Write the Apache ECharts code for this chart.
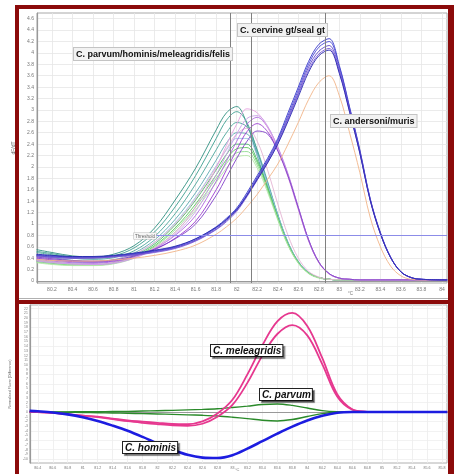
<!DOCTYPE html>
<html><head><meta charset="utf-8">
<script src="https://cdn.jsdelivr.net/npm/echarts@6/dist/echarts.min.js"></script>
<style>html,body{margin:0;padding:0;background:#fff}#c{width:454px;height:474px}</style>
</head><body><div id="c"></div>
<script>
// ---------- TOP PANEL (melt curves dF/dT) ----------
const xTop = [80.05,80.2,80.4,80.6,80.8,81.0,81.2,81.4,81.6,81.8,81.9,82.0,82.1,82.2,82.3,82.4,82.5,82.6,82.7,82.8,82.9,83.0,83.1,83.2,83.3,83.4,83.5,83.6,83.7,83.8,84.05];
const xTopTicks = [80.2,80.4,80.6,80.8,81,81.2,81.4,81.6,81.8,82,82.2,82.4,82.6,82.8,83,83.2,83.4,83.6,83.8,84];
const yTopTicks = [0,0.2,0.4,0.6,0.8,1,1.2,1.4,1.6,1.8,2,2.2,2.4,2.6,2.8,3,3.2,3.4,3.6,3.8,4,4.2,4.4,4.6];
// group 1: C. parvum/hominis/meleagridis/felis
const teal1  = [0.55,0.50,0.44,0.42,0.47,0.62,0.93,1.42,1.98,2.65,2.95,3.06,2.75,2.20,1.62,1.10,0.65,0.33,0.14,0.06,0.03,0.02,0.02,0.02,0.02,0.02,0.02,0.02,0.02,0.02,0.02];
const teal2  = [0.52,0.48,0.42,0.40,0.44,0.58,0.86,1.30,1.85,2.50,2.82,2.97,2.78,2.28,1.70,1.13,0.66,0.33,0.14,0.06,0.03,0.02,0.02,0.02,0.02,0.02,0.02,0.02,0.02,0.02,0.02];
const teal3  = [0.50,0.46,0.40,0.38,0.41,0.53,0.78,1.18,1.70,2.30,2.60,2.78,2.70,2.30,1.75,1.17,0.68,0.34,0.15,0.06,0.03,0.02,0.02,0.02,0.02,0.02,0.02,0.02,0.02,0.02,0.02];
const teal4  = [0.45,0.41,0.36,0.34,0.37,0.49,0.72,1.08,1.55,2.12,2.42,2.60,2.58,2.25,1.72,1.16,0.67,0.34,0.15,0.06,0.03,0.02,0.02,0.02,0.02,0.02,0.02,0.02,0.02,0.02,0.02];
const ltblue = [0.40,0.37,0.33,0.32,0.35,0.46,0.68,1.02,1.47,2.02,2.30,2.50,2.50,2.20,1.70,1.15,0.67,0.34,0.15,0.06,0.03,0.02,0.02,0.02,0.02,0.02,0.02,0.02,0.02,0.02,0.02];
const green1 = [0.36,0.33,0.30,0.29,0.32,0.44,0.65,0.98,1.42,1.95,2.22,2.40,2.40,2.12,1.65,1.12,0.65,0.33,0.14,0.06,0.03,0.02,0.02,0.02,0.02,0.02,0.02,0.02,0.02,0.02,0.02];
const green2 = [0.34,0.31,0.28,0.28,0.31,0.42,0.62,0.93,1.35,1.86,2.13,2.32,2.34,2.08,1.63,1.10,0.64,0.32,0.14,0.06,0.03,0.02,0.02,0.02,0.02,0.02,0.02,0.02,0.02,0.02,0.02];
const ltgrn1 = [0.33,0.30,0.28,0.28,0.31,0.41,0.60,0.90,1.30,1.80,2.06,2.25,2.27,2.03,1.60,1.09,0.63,0.32,0.14,0.06,0.03,0.02,0.02,0.02,0.02,0.02,0.02,0.02,0.02,0.02,0.02];
const ltgrn2 = [0.32,0.29,0.27,0.27,0.30,0.40,0.58,0.86,1.25,1.73,1.98,2.17,2.20,1.98,1.56,1.07,0.62,0.31,0.13,0.05,0.03,0.02,0.02,0.02,0.02,0.02,0.02,0.02,0.02,0.02,0.02];
const pinkG1 = [0.42,0.39,0.35,0.34,0.37,0.47,0.68,1.00,1.45,2.00,2.32,2.58,2.68,2.45,1.95,1.35,0.80,0.40,0.17,0.07,0.03,0.02,0.02,0.02,0.02,0.02,0.02,0.02,0.02,0.02,0.02];
// group 2: second peak (~82.15)
const purpA  = [0.40,0.37,0.34,0.33,0.35,0.42,0.55,0.75,1.05,1.60,1.95,2.30,2.62,2.76,2.62,2.30,1.85,1.28,0.72,0.33,0.13,0.05,0.03,0.02,0.02,0.02,0.02,0.02,0.02,0.02,0.02];
const violB  = [0.38,0.35,0.32,0.31,0.34,0.42,0.57,0.80,1.15,1.75,2.10,2.45,2.75,2.87,2.70,2.35,1.88,1.30,0.73,0.33,0.13,0.05,0.03,0.02,0.02,0.02,0.02,0.02,0.02,0.02,0.02];
const pinkC  = [0.36,0.33,0.30,0.29,0.32,0.41,0.58,0.85,1.30,1.98,2.38,2.75,3.02,2.95,2.70,2.30,1.82,1.25,0.70,0.32,0.12,0.05,0.03,0.02,0.02,0.02,0.02,0.02,0.02,0.02,0.02];
const lilacD = [0.35,0.32,0.30,0.29,0.31,0.40,0.56,0.82,1.22,1.86,2.22,2.58,2.85,2.90,2.72,2.33,1.85,1.28,0.71,0.33,0.13,0.05,0.03,0.02,0.02,0.02,0.02,0.02,0.02,0.02,0.02];
const purpE  = [0.42,0.39,0.36,0.35,0.37,0.44,0.56,0.74,1.00,1.50,1.82,2.15,2.45,2.63,2.58,2.28,1.84,1.28,0.72,0.33,0.13,0.05,0.03,0.02,0.02,0.02,0.02,0.02,0.02,0.02,0.02];
// group 3: C. andersoni/muris
const blueA  = [0.46,0.44,0.42,0.42,0.44,0.48,0.53,0.60,0.74,0.95,1.10,1.28,1.55,1.85,2.15,2.50,2.95,3.40,3.85,4.15,4.25,3.78,3.05,2.30,1.45,0.85,0.42,0.16,0.06,0.03,0.02];
const blueB  = [0.45,0.43,0.41,0.41,0.43,0.47,0.52,0.59,0.72,0.93,1.08,1.26,1.52,1.82,2.12,2.47,2.90,3.35,3.80,4.10,4.20,3.75,3.03,2.28,1.44,0.84,0.41,0.16,0.06,0.03,0.02];
const purpC3 = [0.44,0.42,0.40,0.41,0.43,0.46,0.51,0.58,0.71,0.91,1.06,1.24,1.50,1.80,2.10,2.44,2.86,3.30,3.75,4.03,4.13,3.70,3.00,2.26,1.43,0.83,0.41,0.16,0.06,0.03,0.02];
const violD3 = [0.43,0.41,0.40,0.40,0.42,0.45,0.50,0.57,0.70,0.90,1.04,1.22,1.48,1.77,2.07,2.41,2.83,3.27,3.70,3.98,4.08,3.66,2.97,2.24,1.42,0.83,0.41,0.16,0.06,0.03,0.02];
const blueE  = [0.47,0.45,0.43,0.43,0.45,0.49,0.54,0.61,0.74,0.94,1.08,1.25,1.50,1.78,2.07,2.40,2.80,3.23,3.66,3.95,4.05,3.64,2.96,2.24,1.42,0.83,0.41,0.16,0.06,0.03,0.02];
const orange = [0.38,0.36,0.35,0.35,0.37,0.40,0.45,0.52,0.63,0.82,0.95,1.10,1.30,1.52,1.78,2.05,2.40,2.78,3.18,3.48,3.60,3.25,2.60,1.90,1.12,0.60,0.26,0.09,0.03,0.02,0.02];
const markerTemps = [81.94, 82.14, 82.86];
const thresholdValue = 0.8;
const thresholdStart = 81.0;

// ---------- BOTTOM PANEL (difference plot) ----------
const xBot = [80.29,80.4,80.6,80.8,81.0,81.2,81.4,81.6,81.8,82.0,82.2,82.4,82.6,82.8,83.0,83.2,83.4,83.6,83.8,84.0,84.2,84.4,84.6,84.8,85.0,85.2,85.4,85.6,85.87];
const xBotTicks = [80.4,80.6,80.8,81,81.2,81.4,81.6,81.8,82,82.2,82.4,82.6,82.8,83,83.2,83.4,83.6,83.8,84,84.2,84.4,84.6,84.8,85,85.2,85.4,85.6,85.8];
const yBotTicks = [-10,-9,-8,-7,-6,-5,-4,-3,-2,-1,0,1,2,3,4,5,6,7,8,9,10,11,12,13,14,15,16,17,18,19,20,21,22];
const yBotGrid = [-10,-8,-6,-4,-2,0,2,4,6,8,10,12,14,16,18,20,22];
const hominis   = [0.25,0.15,-0.1,-0.5,-1.1,-1.9,-2.9,-4.0,-5.3,-6.7,-8.0,-9.1,-9.7,-9.8,-9.2,-7.8,-6.2,-4.6,-3.1,-1.8,-0.8,-0.15,0,0,0,0,0,0,0];
const meleagA   = [0,0,-0.2,-0.5,-0.8,-1.0,-1.4,-1.8,-2.05,-2.3,-2.55,-2.6,-2.0,-0.3,2.6,8.0,14.2,19.3,21.1,18.3,11.5,3.8,0.6,0.05,0,0,0,0,0];
const meleagB   = [0,0,-0.2,-0.45,-0.75,-1.1,-1.5,-1.95,-2.3,-2.6,-2.85,-2.95,-2.5,-1.0,1.5,6.2,12.0,16.6,18.5,16.3,10.2,3.3,0.5,0.05,0,0,0,0,0];
const parvumUp  = [0,0,0.02,0.03,0.05,0.07,0.1,0.14,0.2,0.27,0.35,0.45,0.55,0.7,0.95,1.25,1.6,1.7,1.4,0.85,0.3,0.05,0,0,0,0,0,0,0];
const parvumDn  = [0,0,-0.03,-0.06,-0.1,-0.15,-0.2,-0.27,-0.35,-0.42,-0.5,-0.6,-0.7,-0.85,-1.1,-1.4,-1.75,-1.9,-1.6,-0.95,-0.35,-0.05,0,0,0,0,0,0,0];

const topSeries = [
  [teal1,'#2f8f80'],[teal2,'#3c9e8f'],[teal3,'#4aa59a'],[teal4,'#5aa8b0'],[ltblue,'#9cc4e4'],
  [green1,'#48b868'],[green2,'#5cc85c'],[ltgrn1,'#8edc8e'],[ltgrn2,'#b4e8a8'],[pinkG1,'#e4b4d4'],
  [purpA,'#9a3ad0'],[violB,'#b068e0'],[pinkC,'#e6a2e0'],[lilacD,'#c8a0e8'],[purpE,'#8040c8'],
  [orange,'#f2b488'],[blueA,'#3535c8'],[blueB,'#4a4ad8'],[purpC3,'#6048c8'],[violD3,'#7a5ad8'],[blueE,'#2828b0']
];
const botSeries = [
  [parvumUp,'#2a8a2a',1.4],[parvumDn,'#2a8a2a',1.4],
  [meleagA,'#e6388f',1.8],[meleagB,'#e6388f',1.8],
  [hominis,'#1c1ce0',2.6]
];

const FONT = '"Liberation Sans", Arial, sans-serif';
const fmt = v => String(+v.toFixed(1));

const series = [];
topSeries.forEach(([arr,col],i) => {
  series.push({
    type:'line', xAxisIndex:0, yAxisIndex:0, showSymbol:false, smooth:0.35, silent:true,
    data: xTop.map((x,j)=>[x,arr[j]]),
    lineStyle:{width:0.9,color:col}, itemStyle:{color:col}, z:3
  });
});
// marker lines + threshold
series.push({
  type:'line', xAxisIndex:0, yAxisIndex:0, data:[], silent:true, z:4,
  markLine:{
    symbol:'none', silent:true, animation:false, label:{show:false},
    data: markerTemps.map(t=>({xAxis:t, lineStyle:{color:'#808080',width:1,type:'solid'}}))
      .concat([[{coord:[thresholdStart,thresholdValue], lineStyle:{color:'#8c8ce8',width:1,type:'solid'}},{coord:[84.049,thresholdValue]}]])
  }
});
botSeries.forEach(([arr,col,w]) => {
  series.push({
    type:'line', xAxisIndex:1, yAxisIndex:1, showSymbol:false, smooth:0.35, silent:true,
    data: xBot.map((x,j)=>[x,arr[j]]),
    lineStyle:{width:w,color:col}, itemStyle:{color:col}, z:3
  });
});

function boxTop(text, x, y){
  return {type:'text', x:x, y:y, z:100, silent:true,
    style:{text:text, font:'bold 9px '+FONT, fill:'#111', backgroundColor:'#f2f2f2',
      borderColor:'#c4c4c4', borderWidth:1, padding:[2,2,1,2]}};
}
function boxBot(text, x, y){
  return {type:'text', x:x, y:y, z:100, silent:true,
    style:{text:text, font:'italic bold 10px '+FONT, fill:'#111', backgroundColor:'#fff',
      borderColor:'#222', borderWidth:1, padding:[1,1,0,2],
      shadowColor:'rgba(0,0,0,0.45)', shadowOffsetX:2, shadowOffsetY:2, shadowBlur:1}};
}

const chart = echarts.init(document.getElementById('c'), null, {renderer:'canvas'});
chart.setOption({
  animation:false,
  backgroundColor:'#fff',
  grid:[
    {left:37, top:13, width:410, height:270, show:true, borderColor:'#a8a8a8', borderWidth:1, backgroundColor:'#fff'},
    {left:29, top:305, width:418, height:158, show:true, borderColor:'#b0b0b0', borderWidth:1, backgroundColor:'#fff'}
  ],
  xAxis:[
    {type:'value', gridIndex:0, min:80.054, max:84.049,
     axisLine:{show:true,lineStyle:{color:'#999',width:1.2}},
     axisTick:{show:false, customValues:xTopTicks},
     axisLabel:{customValues:xTopTicks, formatter:fmt, fontSize:5, color:'#777', margin:4, fontFamily:FONT},
     splitLine:{show:true, lineStyle:{color:'#e6e6e6', width:0.8}}},
    {type:'value', gridIndex:1, min:80.293, max:85.867,
     axisLine:{show:true,lineStyle:{color:'#999',width:1.2}},
     axisTick:{show:false, customValues:xBotTicks},
     axisLabel:{customValues:xBotTicks, formatter:fmt, fontSize:3.6, color:'#777', margin:3, fontFamily:FONT},
     splitLine:{show:true, lineStyle:{color:'#ececec', width:0.8}}}
  ],
  yAxis:[
    {type:'value', gridIndex:0, min:-0.035, max:4.70,
     name:'dF/dT', nameLocation:'middle', nameGap:13, nameRotate:90,
     nameTextStyle:{fontSize:5, color:'#666', fontFamily:FONT},
     axisLine:{show:true,lineStyle:{color:'#999',width:1.2}},
     axisTick:{show:false, customValues:yTopTicks},
     axisLabel:{customValues:yTopTicks, formatter:fmt, fontSize:5, color:'#777', margin:3, fontFamily:FONT},
     splitLine:{show:true, lineStyle:{color:'#e6e6e6', width:0.8}}},
    {type:'value', gridIndex:1, min:-10.85, max:22.77,
     name:'Normalised Fluoro (Difference)', nameLocation:'middle', nameGap:8, nameRotate:90,
     nameTextStyle:{fontSize:3.6, color:'#666', fontFamily:FONT},
     axisLine:{show:true,lineStyle:{color:'#999',width:1.2}},
     axisTick:{show:false, customValues:yBotGrid},
     axisLabel:{customValues:yBotTicks, formatter:fmt, fontSize:3.4, color:'#777', margin:2, fontFamily:FONT},
     splitLine:{show:true, lineStyle:{color:'#efefef', width:0.8}}}
  ],
  series: series,
  graphic:[
    {type:'rect', shape:{x:15,y:5,width:439,height:4}, style:{fill:'#8b0a0a'}, z:50, silent:true},
    {type:'rect', shape:{x:15,y:5,width:4,height:469}, style:{fill:'#8b0a0a'}, z:50, silent:true},
    {type:'rect', shape:{x:448,y:5,width:6,height:469}, style:{fill:'#8b0a0a'}, z:50, silent:true},
    {type:'rect', shape:{x:15,y:300,width:439,height:4}, style:{fill:'#8b0a0a'}, z:50, silent:true},
    {type:'line', shape:{x1:19,y1:298.5,x2:448,y2:298.5}, style:{stroke:'#b0b0b0', lineWidth:1}, z:50, silent:true},
    {type:'text', x:348, y:291, z:60, silent:true, style:{text:'°C', font:'4.5px '+FONT, fill:'#777'}},
    {type:'text', x:235, y:468, z:60, silent:true, style:{text:'°C', font:'4px '+FONT, fill:'#777'}},
    {type:'text', x:134, y:233, z:90, silent:true, style:{text:'Threshold', font:'4.5px '+FONT, fill:'#666',
      backgroundColor:'#f6f6f6', borderColor:'#bbb', borderWidth:0.6, padding:[1,1,0,1]}},
    boxTop('C. parvum/hominis/meleagridis/felis', 74, 48),
    boxTop('C. cervine gt/seal gt', 238, 24),
    boxTop('C. andersoni/muris', 331, 115),
    boxBot('C. meleagridis', 211, 345),
    boxBot('C. parvum', 260, 389),
    boxBot('C. hominis', 123, 442)
  ]
});
</script></body></html>
